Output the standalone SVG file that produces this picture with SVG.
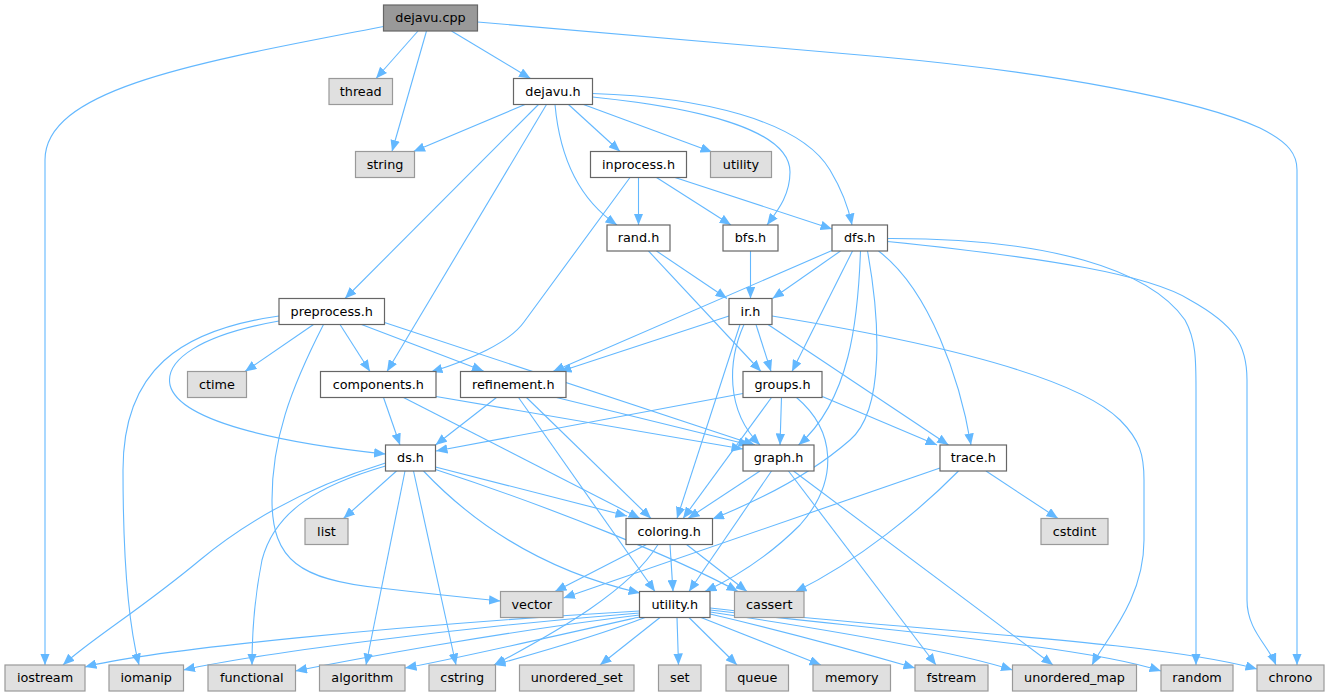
<svg xmlns="http://www.w3.org/2000/svg" width="1329" height="696" viewBox="0 0 1329 696">
<style>
.e{fill:none;stroke:#63b8ff;stroke-width:1.1;marker-end:url(#arr)}
.n rect{fill:#ffffff;stroke:#666666;stroke-width:1.2}
.s rect{fill:#e0e0e0;stroke:#999999;stroke-width:1.2}
.r rect{fill:#999999;stroke:#666666;stroke-width:1.2}
text{font-family:'DejaVu Sans','Liberation Sans',sans-serif;font-size:12.8px;fill:#000000;text-anchor:middle}
</style>
<defs>
<marker id="arr" viewBox="0 0 11.5 9.5" refX="11.5" refY="4.75" markerWidth="11.5" markerHeight="9.5" orient="auto" markerUnits="userSpaceOnUse">
<path d="M0,0 L11.5,4.75 L0,9.5 z" fill="#63b8ff"/>
</marker>
</defs>
<rect width="1329" height="696" fill="#ffffff"/>
<g id="edges">
<path class="e" d="M383.5,26.5 C200,62 45,88 45,160 L45,665"/>
<path class="e" d="M418,31 L376,78.5"/>
<path class="e" d="M426.5,31 L392,151.5"/>
<path class="e" d="M451.5,31 L530.5,78.5"/>
<path class="e" d="M477.5,22 L880,56.7 C1050,72 1200,100 1260,128 C1290,143 1297,155 1297,170 L1297,665"/>
<path class="e" d="M525,104.5 L413.5,151.5"/>
<path class="e" d="M538.5,104.5 L345,298.5"/>
<path class="e" d="M546.5,104.5 L387,371.5"/>
<path class="e" d="M555,104.5 C560,160 580,200 617,225"/>
<path class="e" d="M568.5,104.5 L620,151.5"/>
<path class="e" d="M583.5,104.5 L712,152"/>
<path class="e" d="M592.5,97 C700,108 790,130 790,172 C790,195 778,210 767,225"/>
<path class="e" d="M592.5,93.5 C700,97 800,120 830,170 C842,190 848,205 852,225"/>
<path class="e" d="M638.5,177.5 L638.5,225"/>
<path class="e" d="M656.5,177.5 L731,225"/>
<path class="e" d="M675,177.5 L832,229"/>
<path class="e" d="M630,177.5 L524,322 C510,342 470,360 431,372"/>
<path class="e" d="M656.5,251 L727,298.5"/>
<path class="e" d="M648.5,251 L761,371.5"/>
<path class="e" d="M750.5,251 L750.5,298.5"/>
<path class="e" d="M840.5,251 L772.5,298.5"/>
<path class="e" d="M832,250.5 L553,371.5"/>
<path class="e" d="M852.5,251 L792,371.5"/>
<path class="e" d="M860.5,251 C858,320 850,400 798.5,445"/>
<path class="e" d="M867.5,251 C880,320 885,410 850,440 C810,475 760,500 712.5,519"/>
<path class="e" d="M878.5,251 C930,290 960,380 971,445"/>
<path class="e" d="M887.5,238.5 C1050,238 1150,270 1185,320 C1196,340 1196,360 1196,390 L1196,665"/>
<path class="e" d="M887.5,241.5 C1050,258 1150,275 1190,300 C1235,325 1247,345 1247,380 L1247,600 C1247,630 1268,645 1276,665"/>
<path class="e" d="M729,316 L560,371.5"/>
<path class="e" d="M756,324.5 L771,371.5"/>
<path class="e" d="M744,324.5 C728,360 725,410 760,445"/>
<path class="e" d="M740,324.5 L677,518.5"/>
<path class="e" d="M768,324.5 L948.5,445"/>
<path class="e" d="M772,316 C950,345 1080,380 1120,420 C1140,440 1144,455 1144,480 L1144,540 C1144,600 1105,640 1092,665"/>
<path class="e" d="M313.5,324.5 L245,371.5"/>
<path class="e" d="M340,324.5 L370,371.5"/>
<path class="e" d="M361.5,324.5 L483.5,371"/>
<path class="e" d="M384.5,322.5 L755,445"/>
<path class="e" d="M279,321 C200,335 165,360 170,385 C180,425 300,445 385.5,454"/>
<path class="e" d="M279,316 C180,330 123,370 123,470 C123,570 130,630 139,665"/>
<path class="e" d="M323.5,324.5 C290,390 272,440 272,500 C272,560 300,580 380,588 C440,595 470,598 500.5,601"/>
<path class="e" d="M383.5,397.5 L400,445"/>
<path class="e" d="M403.5,397.5 L640,518.5"/>
<path class="e" d="M436,396.5 L743,449"/>
<path class="e" d="M496.5,397.5 L435.5,445"/>
<path class="e" d="M556.5,397.5 L750,445"/>
<path class="e" d="M526.5,397.5 L651,518.5"/>
<path class="e" d="M518.5,397.5 L655,591.5"/>
<path class="e" d="M743,393.5 L436,451"/>
<path class="e" d="M781.5,397.5 L780,445"/>
<path class="e" d="M771.5,397.5 L683,518.5"/>
<path class="e" d="M796.5,397.5 C835,430 840,480 800,525 C770,555 740,575 705,591.5"/>
<path class="e" d="M814,393 L937,445"/>
<path class="e" d="M396.5,471 L343.5,518.5"/>
<path class="e" d="M435.5,467 L627,516"/>
<path class="e" d="M435.5,469.5 C560,510 680,560 738,591.5"/>
<path class="e" d="M423.5,471 C470,520 540,570 640,593"/>
<path class="e" d="M385.5,463 C330,480 260,510 200,560 C140,610 90,640 63,665"/>
<path class="e" d="M385.5,466 C320,485 275,510 262,560 C254,600 252,630 252,665"/>
<path class="e" d="M405,471 L366,665"/>
<path class="e" d="M413.5,471 L456,665"/>
<path class="e" d="M760,471 L688,518.5"/>
<path class="e" d="M771.5,471 L689,591.5"/>
<path class="e" d="M788.5,471 L936,665"/>
<path class="e" d="M793.5,471 L1053,665"/>
<path class="e" d="M940,468 L563.5,598"/>
<path class="e" d="M958.5,471 C920,510 860,560 795,592"/>
<path class="e" d="M986,471 L1058,518.5"/>
<path class="e" d="M646.5,544.5 L555,591.5"/>
<path class="e" d="M658,544.5 C630,590 560,630 494,665"/>
<path class="e" d="M670,544.5 L673,591.5"/>
<path class="e" d="M686.5,544.5 L747,591.5"/>
<path class="e" d="M639.5,611 C400,625 150,650 85,667"/>
<path class="e" d="M639.5,613 C450,628 250,655 183.5,670"/>
<path class="e" d="M639.5,615 C500,632 350,660 295.5,671"/>
<path class="e" d="M639.5,617 C560,635 450,660 405,668"/>
<path class="e" d="M645,617.5 C600,635 530,655 494,665"/>
<path class="e" d="M660,617.5 L600,665"/>
<path class="e" d="M677,617.5 L678.5,665"/>
<path class="e" d="M689,617.5 L737,665"/>
<path class="e" d="M701,617.5 L821,665"/>
<path class="e" d="M710,614 C800,635 870,655 915,668"/>
<path class="e" d="M710,612 C830,630 950,650 1012.5,670"/>
<path class="e" d="M710,610 C880,630 1080,645 1161,671"/>
<path class="e" d="M710,608 C900,630 1150,640 1257,669"/>
</g>
<g id="n_dejavu_cpp" class="r"><rect x="383.5" y="5" width="94" height="26"/><text x="430.5" y="22">dejavu.cpp</text></g>
<g id="n_thread" class="s"><rect x="329" y="78.5" width="63.5" height="26"/><text x="360.75" y="95.5">thread</text></g>
<g id="n_dejavu_h" class="n"><rect x="513.5" y="78.5" width="79" height="26"/><text x="553" y="95.5">dejavu.h</text></g>
<g id="n_string" class="s"><rect x="355.5" y="151.5" width="59" height="26"/><text x="385" y="168.5">string</text></g>
<g id="n_inprocess" class="n"><rect x="590.5" y="151.5" width="96" height="26"/><text x="638.5" y="168.5">inprocess.h</text></g>
<g id="n_utility" class="s"><rect x="710.5" y="151.5" width="61" height="26"/><text x="741" y="168.5">utility</text></g>
<g id="n_rand" class="n"><rect x="607" y="225" width="63" height="26"/><text x="638.5" y="242">rand.h</text></g>
<g id="n_bfs" class="n"><rect x="723" y="225" width="55" height="26"/><text x="750.5" y="242">bfs.h</text></g>
<g id="n_dfs" class="n"><rect x="832" y="225" width="55.5" height="26"/><text x="859.75" y="242">dfs.h</text></g>
<g id="n_preprocess" class="n"><rect x="279" y="298.5" width="105.5" height="26"/><text x="331.75" y="315.5">preprocess.h</text></g>
<g id="n_ir" class="n"><rect x="729" y="298.5" width="43" height="26"/><text x="750.5" y="315.5">ir.h</text></g>
<g id="n_ctime" class="s"><rect x="187.5" y="371.5" width="59" height="26"/><text x="217" y="388.5">ctime</text></g>
<g id="n_components" class="n"><rect x="320.5" y="371.5" width="115.5" height="26"/><text x="378.25" y="388.5">components.h</text></g>
<g id="n_refinement" class="n"><rect x="460.5" y="371.5" width="105.5" height="26"/><text x="513.25" y="388.5">refinement.h</text></g>
<g id="n_groups" class="n"><rect x="743" y="371.5" width="79" height="26"/><text x="782.5" y="388.5">groups.h</text></g>
<g id="n_ds" class="n"><rect x="385.5" y="445" width="50" height="26"/><text x="410.5" y="462">ds.h</text></g>
<g id="n_graph" class="n"><rect x="743" y="445" width="71" height="26"/><text x="778.5" y="462">graph.h</text></g>
<g id="n_trace" class="n"><rect x="940" y="445" width="66.5" height="26"/><text x="973.25" y="462">trace.h</text></g>
<g id="n_list" class="s"><rect x="305" y="518.5" width="43" height="26"/><text x="326.5" y="535.5">list</text></g>
<g id="n_coloring" class="n"><rect x="626" y="518.5" width="86.5" height="26"/><text x="669.25" y="535.5">coloring.h</text></g>
<g id="n_cstdint" class="s"><rect x="1041" y="518.5" width="67" height="26"/><text x="1074.5" y="535.5">cstdint</text></g>
<g id="n_vector" class="s"><rect x="500.5" y="591.5" width="62.5" height="26"/><text x="531.75" y="608.5">vector</text></g>
<g id="n_utility_h" class="n"><rect x="639.5" y="591.5" width="70.5" height="26"/><text x="674.75" y="608.5">utility.h</text></g>
<g id="n_cassert" class="s"><rect x="734.5" y="591.5" width="69.5" height="26"/><text x="769.25" y="608.5">cassert</text></g>
<g id="n_iostream" class="s"><rect x="5" y="665" width="80" height="26"/><text x="45" y="682">iostream</text></g>
<g id="n_iomanip" class="s"><rect x="109" y="665" width="74.5" height="26"/><text x="146.25" y="682">iomanip</text></g>
<g id="n_functional" class="s"><rect x="208" y="665" width="87.5" height="26"/><text x="251.75" y="682">functional</text></g>
<g id="n_algorithm" class="s"><rect x="319.5" y="665" width="85.5" height="26"/><text x="362.25" y="682">algorithm</text></g>
<g id="n_cstring" class="s"><rect x="429" y="665" width="66.5" height="26"/><text x="462.25" y="682">cstring</text></g>
<g id="n_unordered_set" class="s"><rect x="519.5" y="665" width="114.5" height="26"/><text x="576.75" y="682">unordered_set</text></g>
<g id="n_set" class="s"><rect x="658.5" y="665" width="42.5" height="26"/><text x="679.75" y="682">set</text></g>
<g id="n_queue" class="s"><rect x="726" y="665" width="62.5" height="26"/><text x="757.25" y="682">queue</text></g>
<g id="n_memory" class="s"><rect x="813" y="665" width="77.5" height="26"/><text x="851.75" y="682">memory</text></g>
<g id="n_fstream" class="s"><rect x="915" y="665" width="73" height="26"/><text x="951.5" y="682">fstream</text></g>
<g id="n_unordered_map" class="s"><rect x="1012.5" y="665" width="124" height="26"/><text x="1074.5" y="682">unordered_map</text></g>
<g id="n_random" class="s"><rect x="1161" y="665" width="72" height="26"/><text x="1197" y="682">random</text></g>
<g id="n_chrono" class="s"><rect x="1257" y="665" width="67" height="26"/><text x="1290.5" y="682">chrono</text></g>
</svg>
